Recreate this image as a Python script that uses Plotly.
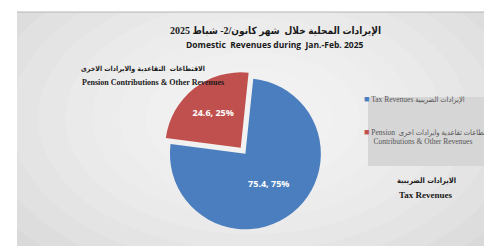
import plotly.graph_objects as go

# ---- data ----
categories = ["Tax Revenues", "Pension Contributions & Other Revenues"]
legend_text = [
    "Tax Revenues الإيرادات الضريبية<br> <br> ",
    "Pension  اقتطاعات تقاعدية وايرادات اخرى<br>     Contributions & Other Revenues",
]
values = [75.4, 24.6]
colors = ["#4a7ebf", "#c0504d"]
pulls = [0, 0.1]

title_ar = "الإيرادات المحلية خلال  شهر كانون/2- شباط 2025"
title_en = "Domestic  Revenues during  Jan.-Feb. 2025"
pension_ar = "الاقتطاعات  التقاعدية والايرادات الاخرى"
pension_en = "Pension Contributions & Other Revenues"
tax_ar = "الايرادات الضريبية"
tax_en = "Tax Revenues"

W, H = 492, 246

fig = go.Figure()
fig.add_trace(go.Pie(
    labels=categories,
    values=values,
    marker=dict(colors=colors, line=dict(width=0)),
    pull=pulls,
    sort=False,
    direction="clockwise",
    rotation=6,
    texttemplate="<b>%{value}, %{percent:.0%}</b>",
    textposition="inside",
    insidetextfont=dict(color="white", size=9, family="Open Sans"),
    domain=dict(x=[0.305, 0.66], y=[0.07, 0.745]),
    hoverinfo="skip",
    showlegend=False,
))
# legend entries: coloured square glyph + label text
for lab, col in zip(legend_text, colors):
    name = "<span style='color:%s;font-size:9px'>■</span> %s" % (col, lab)
    fig.add_trace(go.Scatter(x=[None], y=[None], mode="markers", name=name,
                             marker=dict(symbol="square", size=1, color="rgba(0,0,0,0)")))

shapes = []
shapes.append(dict(type="rect", xref="paper", yref="paper", x0=9 / W, x1=1, y0=0, y1=1 - 4 / H,
                   fillcolor="#cecece", line=dict(width=0), layer="below"))
cx, cy = 245, 110
for i in range(12):
    rx = 350 - i * 27
    ry = rx * 0.62
    shapes.append(dict(type="circle", xref="paper", yref="paper",
                       x0=(cx - rx) / W, x1=(cx + rx) / W,
                       y0=1 - (cy + ry) / H, y1=1 - (cy - ry) / H,
                       fillcolor="rgba(255,255,255,0.12)", line=dict(width=0), layer="below"))
shapes.append(dict(type="line", xref="paper", yref="paper", x0=9 / W, x1=1, y0=1 - 4 / H, y1=1 - 4 / H,
                   line=dict(color="#b5b5b5", width=1), layer="below"))
shapes.append(dict(type="rect", xref="paper", yref="paper", x0=360 / W, x1=1, y0=1 - 158 / H, y1=1 - 89 / H,
                   fillcolor="#d6d6d6", line=dict(width=0), layer="below"))


def ann(text, x, y, size, family, color="#1a1a1a"):
    return dict(text=text, x=x / W, y=1 - y / H, xref="paper", yref="paper",
                showarrow=False, font=dict(size=size, family=family, color=color),
                xanchor="center", yanchor="middle")


annotations = [
    ann("<b>" + title_ar + "</b>", 267, 23, 10, "Liberation Serif, DejaVu Sans Condensed"),
    ann("<b>" + title_en + "</b>", 267, 37, 8.5, "Open Sans"),
    ann("<b>" + pension_ar + "</b>", 135, 61, 7, "DejaVu Sans Condensed"),
    ann("<b>" + pension_en + "</b>", 145, 74, 8, "Liberation Serif"),
    ann("<b>" + tax_ar + "</b>", 418, 172, 7.5, "DejaVu Sans Condensed"),
    ann("<b>" + tax_en + "</b>", 417, 187, 9, "Liberation Serif"),
]

fig.update_layout(
    width=W, height=H,
    margin=dict(l=0, r=0, t=0, b=0, autoexpand=False),
    paper_bgcolor="white",
    plot_bgcolor="rgba(0,0,0,0)",
    xaxis=dict(visible=False),
    yaxis=dict(visible=False),
    shapes=shapes,
    annotations=annotations,
    showlegend=True,
    legend=dict(x=316 / W, y=1 - 80 / H, xanchor="left", yanchor="top",
                bgcolor="rgba(0,0,0,0)", valign="top", itemsizing="trace",
                itemwidth=30, tracegroupgap=0, traceorder="normal",
                font=dict(size=7.5, family="Liberation Serif, DejaVu Sans Condensed", color="#555555")),
)

fig.write_html("out.html")
